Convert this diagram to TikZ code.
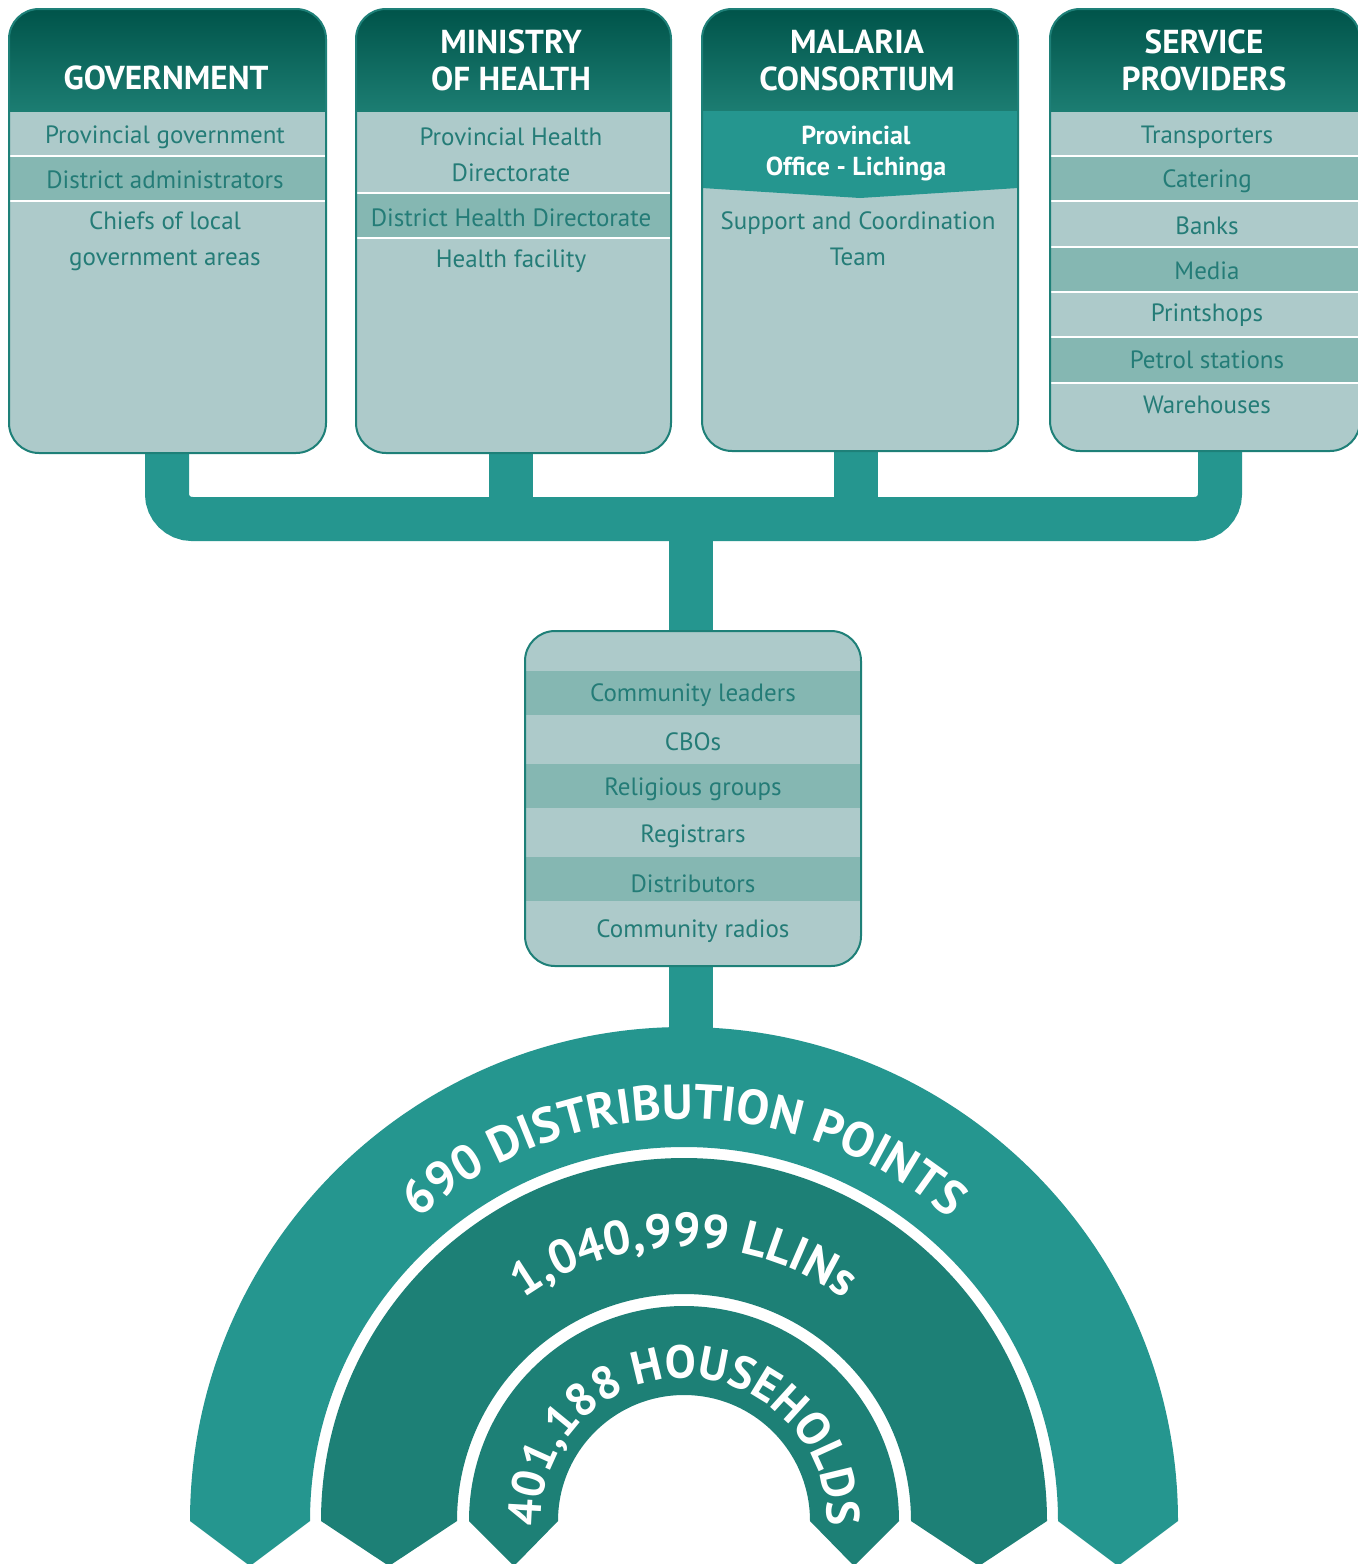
\documentclass[tikz,border=0pt]{standalone}
\usepackage{fontspec}
\setmainfont{PT Sans}
\usetikzlibrary{decorations.text}

\definecolor{headtop}{RGB}{0,84,74}
\definecolor{headbottom}{RGB}{28,125,114}
\definecolor{rowlight}{RGB}{173,202,202}
\definecolor{rowdark}{RGB}{133,183,178}
\definecolor{rowtext}{RGB}{36,124,119}
\definecolor{pipe}{RGB}{37,150,143}
\definecolor{band}{RGB}{29,128,118}
\definecolor{boxframe}{RGB}{30,128,120}

\begin{document}
\begin{tikzpicture}[x=0.5pt,y=0.5pt]
\tikzstyle{row}=[text=rowtext,align=center,font=\fontsize{12.5}{18}\selectfont]
\tikzstyle{head}=[text=white,align=center,font=\bfseries\fontsize{16.6}{18.5}\selectfont]
\tikzstyle{box}=[draw=boxframe,line width=1pt,rounded corners=15pt]
\tikzstyle{sep}=[white,line width=1pt]

% white page, same size as the reference
\fill[white] (0,0) rectangle (1358,-1564);
\useasboundingbox (0,0) rectangle (1358,-1564);

% pipes first, the boxes go on top of them
\coordinate (gov-s) at (167,-440);
\coordinate (moh-s) at (511,-440);
\coordinate (mc-s) at (856,-440);
\coordinate (sp-s) at (1220,-440);
\coordinate (hub) at (691,-519);
\coordinate (mid-n) at (691,-640);
\coordinate (mid-s) at (691,-950);
\coordinate (arch-n) at (691,-1050);
\draw[pipe,line width=22pt,rounded corners=12.5pt] (gov-s) |- (hub) -| (sp-s);
\draw[pipe,line width=22pt] (moh-s) -- (moh-s |- hub);
\draw[pipe,line width=22pt] (mc-s) -- (mc-s |- hub);
\draw[pipe,line width=22pt] (hub) -- (mid-n);
\draw[pipe,line width=22pt] (mid-s) -- (arch-n);

% the four top boxes: light body and shaded header
\foreach \l/\r/\b in {9/326/453, 356/671/453, 702/1018/451, 1050/1360/451}{
  \begin{scope}
    \clip[rounded corners=15pt] (\l,-9) rectangle (\r,-\b);
    \fill[rowlight] (\l,-9) rectangle (\r,-\b);
    \shade[top color=headtop,bottom color=headbottom] (\l,-9) rectangle (\r,-111);
  \end{scope}
}

% government
\fill[rowdark] (9,-157) rectangle (326,-200);
\draw[sep] (9,-156) -- (326,-156) (9,-201) -- (326,-201);
\draw[box] (9,-9) rectangle (326,-453);
\node[head] (gov-head) at (166,-78) {GOVERNMENT};
\node[row] (gov-1) at (165,-137) {Provincial government};
\node[row] (gov-2) at (165,-180) {District administrators};
\node[row] (gov-3) at (165,-241) {Chiefs of local\\government areas};

% ministry of health
\fill[rowdark] (356,-194) rectangle (671,-237);
\draw[sep] (356,-193) -- (671,-193) (356,-238) -- (671,-238);
\draw[box] (356,-9) rectangle (671,-453);
\node[head] (moh-head) at (511,-60) {MINISTRY\\OF HEALTH};
\node[row] (moh-1) at (511,-155) {Provincial Health\\Directorate};
\node[row] (moh-2) at (511,-218) {District Health Directorate};
\node[row] (moh-3) at (511,-261) {Health facility};

% malaria consortium
\fill[pipe] (702,-111) -- (1018,-111) -- (1018,-188) -- (860,-198) -- (702,-188) -- cycle;
\draw[box] (702,-9) rectangle (1018,-451);
\node[head] (mc-head) at (857,-60) {MALARIA\\CONSORTIUM};
\node[text=white,align=center,font=\bfseries\fontsize{13}{15.5}\selectfont] (mc-1) at (856,-154) {Provincial\\Office - Lichinga};
\node[row] (mc-2) at (858,-239) {Support and Coordination\\Team};

% service providers
\foreach \t in {157,248,338}
  \fill[rowdark] (1050,-\t) rectangle (1360,-\t-44);
\foreach \t in {156,201,247,292,337,383}
  \draw[sep] (1050,-\t) -- (1360,-\t);
\draw[box] (1050,-9) rectangle (1360,-451);
\node[head] (sp-head) at (1204,-60) {SERVICE\\PROVIDERS};
\foreach \t [count=\i] in {Transporters,Catering,Banks,Media,Printshops,Petrol stations,Warehouses}
  \node[row] (sp-\i) at (1207,{-137-44.6*(\i-1)}) {\t};

% community box
\begin{scope}
  \clip[rounded corners=15pt] (525,-631) rectangle (861,-966);
  \fill[rowlight] (525,-631) rectangle (861,-966);
  \foreach \t in {671,764,857}
    \fill[rowdark] (525,-\t) rectangle (861,-\t-44);
\end{scope}
\draw[box] (525,-631) rectangle (861,-966);
\foreach \t [count=\i] in {Community leaders,CBOs,Religious groups,Registrars,Distributors,Community radios}
  \node[row] (mid-\i) at (693,{-695-47.2*(\i-1)}) {\t};

% the arch: three bands that end in arrow points
\fill[pipe] (190,-1521) arc[start angle=180,end angle=0,radius=494]
  -- (1118,-1566) -- (1058,-1521) arc[start angle=0,end angle=180,radius=374]
  -- (250,-1566) -- cycle;
\fill[band] (321,-1521) arc[start angle=180,end angle=0,radius=363]
  -- (979,-1566) -- (911,-1521) arc[start angle=0,end angle=180,radius=227]
  -- (389,-1566) -- cycle;
\fill[band] (469,-1521) arc[start angle=180,end angle=0,radius=215]
  -- (854,-1566) -- (810,-1521) arc[start angle=0,end angle=180,radius=126]
  -- (514,-1566) -- cycle;

% texts round the arch
\path[decorate,decoration={text along path,text align=center,text color=white,
  text={|\bfseries\fontsize{24.5}{24}\selectfont|690 DISTRIBUTION POINTS}}]
  (282,-1521) arc[start angle=180,end angle=0,radius=402];
\path[decorate,decoration={text along path,text align=center,text color=white,
  text={|\bfseries\fontsize{24}{24}\selectfont|1,040,999 LLINs}}]
  (410,-1521) arc[start angle=180,end angle=0,radius=274];
\path[decorate,decoration={text along path,text align=center,text color=white,
  text={|\bfseries\fontsize{23.2}{22}\selectfont|401,188 HOUSEHOLDS}}]
  (541,-1521) arc[start angle=180,end angle=0,radius=143];

\end{tikzpicture}
\end{document}
